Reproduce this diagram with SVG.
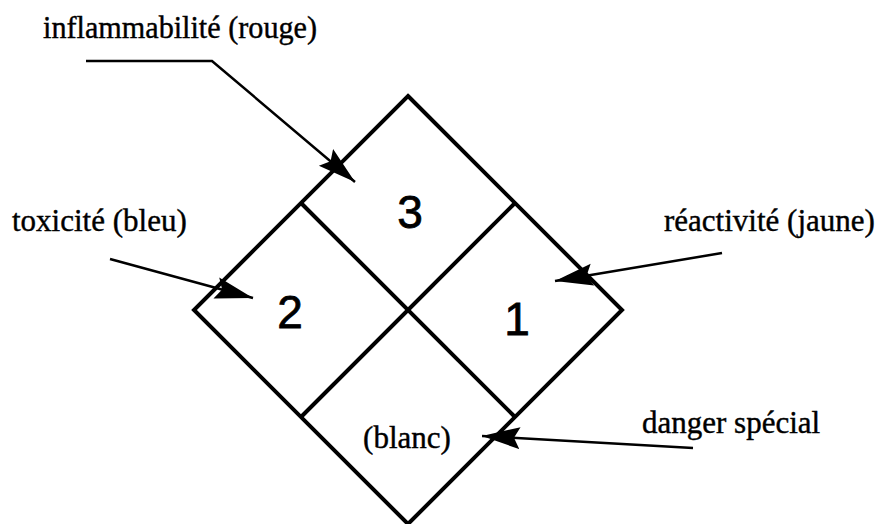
<svg xmlns="http://www.w3.org/2000/svg" width="883" height="524" viewBox="0 0 883 524">
<style>
.frame{fill:none;stroke:#000;stroke-width:4;stroke-linejoin:miter}
.div{fill:none;stroke:#000;stroke-width:4}
.conn{fill:none;stroke:#000;stroke-width:2.5}
.lbl{font-family:"Liberation Serif","Times New Roman",serif;font-size:31px;fill:#000;stroke:#000;stroke-width:0.4}
.num{font-family:"Liberation Sans",Arial,sans-serif;font-size:46px;fill:#000;stroke:#000;stroke-width:0.8;text-anchor:middle}
</style>
<defs>
<marker id="ah" markerUnits="userSpaceOnUse" markerWidth="42" markerHeight="24" refX="38" refY="11" orient="auto">
<path d="M0,0 L38,11 L0,22 L6,11 Z" fill="#000"/>
</marker>
</defs>
<rect width="883" height="524" fill="#fff"/>
<g id="diamond">
<polygon class="frame" points="408,96 622,310 408,524 194,310"/>
<line class="div" x1="301" y1="203" x2="515" y2="417"/>
<line class="div" x1="515" y1="203" x2="301" y2="417"/>
</g>
<g id="cell-top"><text class="num" x="410" y="228">3</text></g>
<g id="cell-left"><text class="num" x="290" y="328">2</text></g>
<g id="cell-right"><text class="num" x="517" y="335">1</text></g>
<g id="cell-bottom"><text class="lbl" x="407" y="448" text-anchor="middle">(blanc)</text></g>
<g id="label-inflammabilite"><text class="lbl" x="43" y="38" textLength="274" lengthAdjust="spacingAndGlyphs">inflammabilité (rouge)</text></g>
<g id="label-toxicite"><text class="lbl" x="12" y="231">toxicité (bleu)</text></g>
<g id="label-reactivite"><text class="lbl" x="664" y="231">réactivité (jaune)</text></g>
<g id="label-danger"><text class="lbl" x="642" y="433">danger spécial</text></g>
<g id="connectors">
<polyline class="conn" points="86,61 212,61 355,182" marker-end="url(#ah)"/>
<line class="conn" x1="110" y1="259" x2="253" y2="298" marker-end="url(#ah)"/>
<line class="conn" x1="722" y1="253" x2="555" y2="281" marker-end="url(#ah)"/>
<line class="conn" x1="693" y1="448" x2="482" y2="436" marker-end="url(#ah)"/>
</g>
</svg>
